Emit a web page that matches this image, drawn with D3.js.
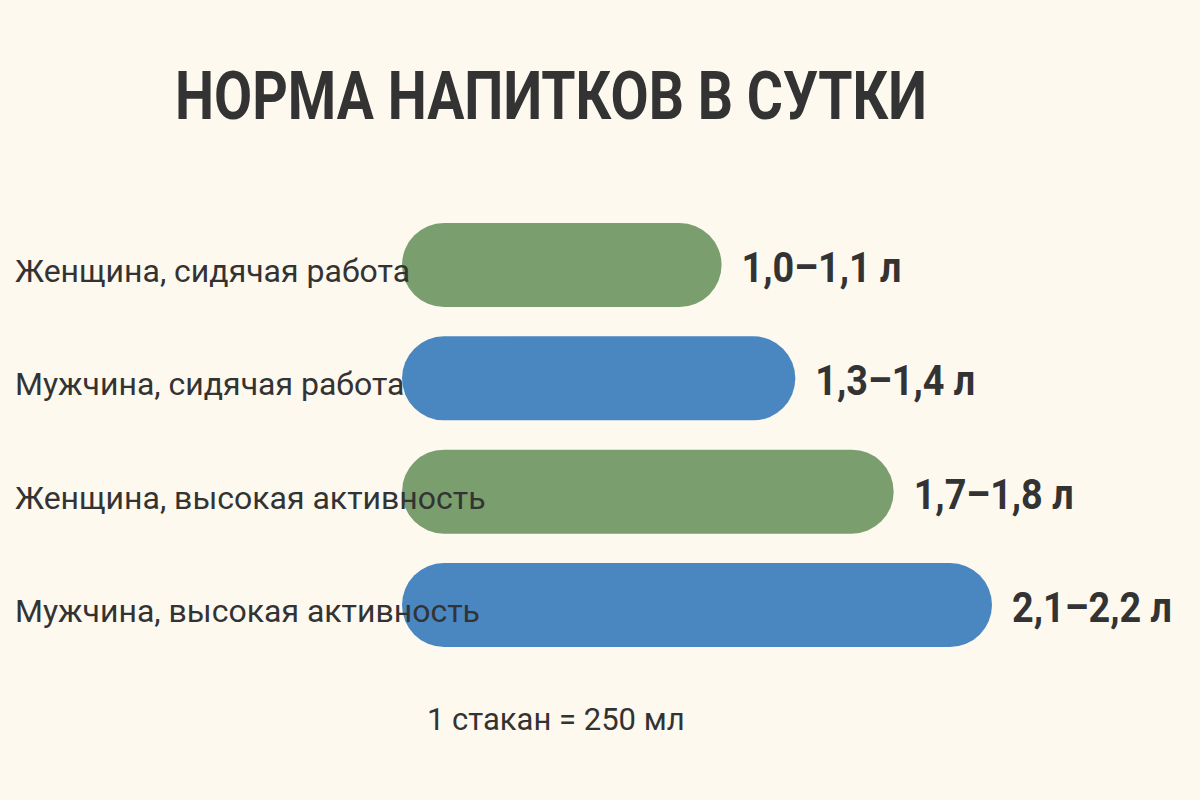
<!DOCTYPE html>
<html><head><meta charset="utf-8">
<script src="https://cdn.jsdelivr.net/npm/d3@7"></script>
<style>
html,body{margin:0;padding:0;background:#fdf9ef;}
svg{display:block;}
text{font-family:Roboto,"Noto Sans",sans-serif;fill:#333;}
</style></head>
<body>
<script>
const title = "НОРМА НАПИТКОВ В СУТКИ";
const categories = ["Женщина, сидячая работа","Мужчина, сидячая работа","Женщина, высокая активность","Мужчина, высокая активность"];
const lowValues = [1.0, 1.3, 1.7, 2.1];
const highValues = [1.1, 1.4, 1.8, 2.2];
const valueLabels = ["1,0–1,1 л","1,3–1,4 л","1,7–1,8 л","2,1–2,2 л"];
const colors = ["#7a9e6e","#4a87c1","#7a9e6e","#4a87c1"];
const footnote = "1 стакан = 250 мл";

const W=1200,H=800;
const svg=d3.select("body").append("svg").attr("width",W).attr("height",H);
svg.append("rect").attr("width",W).attr("height",H).attr("fill","#fdf9ef");

const x=d3.scaleLinear().domain([-0.2,2.2]).range([402,992]);
const y=d3.scaleBand().domain(categories).range([223,647]).paddingInner(0.259).paddingOuter(0);

svg.append("text").attr("x",551).attr("y",119).attr("text-anchor","middle")
  .attr("font-size",66).attr("font-weight",700).attr("textLength",752).attr("lengthAdjust","spacingAndGlyphs")
  .text(title);

const rows=svg.selectAll("g.row").data(categories).join("g").attr("class","row");
rows.append("rect")
  .attr("x",x.range()[0]).attr("y",d=>y(d))
  .attr("width",(d,i)=>x(highValues[i])-x.range()[0])
  .attr("height",y.bandwidth())
  .attr("rx",y.bandwidth()/2).attr("ry",y.bandwidth()/2)
  .attr("fill",(d,i)=>colors[i]);
rows.append("text").attr("x",15).attr("y",d=>y(d)+y.bandwidth()/2+17)
  .attr("font-size",32).text(d=>d);
rows.append("text")
  .attr("transform",(d,i)=>`translate(${x(highValues[i])+20},${y(d)+y.bandwidth()/2+17}) scale(0.9,1)`)
  .attr("font-size",42).attr("font-weight",700).text((d,i)=>valueLabels[i]);

svg.append("text").attr("x",427).attr("y",730).attr("font-size",31).text(footnote);
</script>
</body></html>
